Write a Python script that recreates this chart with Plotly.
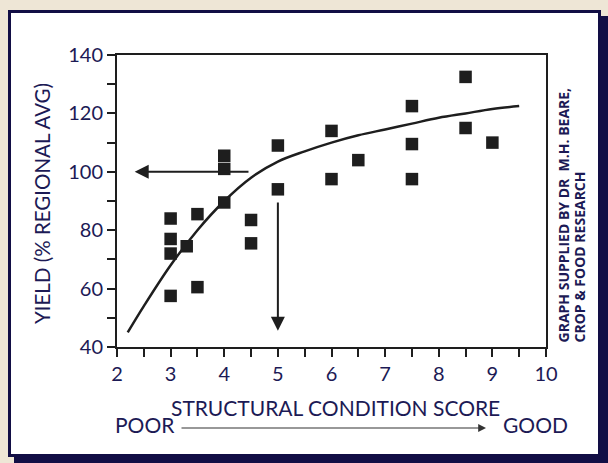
import plotly.graph_objects as go

# ---- data ----
score = [3, 3, 3, 3, 3.3, 3.5, 3.5, 4, 4, 4, 4.5, 4.5, 5, 5, 6, 6, 6.5, 7.5, 7.5, 7.5, 8.5, 8.5, 9]
yield_pct = [84, 77, 72, 57.5, 74.5, 85.5, 60.5, 105.5, 101, 89.5, 83.5, 75.5, 109, 94, 114, 97.5, 104, 122.5, 109.5, 97.5, 132.5, 115, 110]

curve_x = [2.2, 2.5, 3, 3.5, 4, 4.5, 5, 5.5, 6, 6.5, 7, 7.5, 8, 8.5, 9, 9.5]
curve_y = [45, 54, 68, 80, 90, 98, 103.5, 107, 110, 112.5, 114.5, 116.5, 118.5, 120, 121.5, 122.5]

x_ticks = [2, 3, 4, 5, 6, 7, 8, 9, 10]
y_ticks = [40, 60, 80, 100, 120, 140]

NAVY = "#1c1a55"
INK = "#1e1e1e"
W, H = 608, 463
L, R, T, B = 117, 62, 55, 116
PW, PH = W - L - R, H - T - B

def px(xp):
    return (xp - L) / PW

def py(yp):
    return (H - B - yp) / PH

fig = go.Figure()
fig.add_trace(go.Scatter(x=curve_x, y=curve_y, mode="lines", line=dict(color=INK, width=2.5, shape="spline"),
                         hoverinfo="skip", showlegend=False))
fig.add_trace(go.Scatter(x=score, y=yield_pct, mode="markers",
                         marker=dict(symbol="square", size=12.5, color=INK), showlegend=False))

font_main = "Lato, 'Open Sans', sans-serif"

fig.update_layout(
    width=W, height=H,
    margin=dict(l=L, r=R, t=T, b=B),
    paper_bgcolor="#eee6d6",
    plot_bgcolor="rgba(0,0,0,0)",
    font=dict(family=font_main, color=NAVY, size=20),
    showlegend=False,
    xaxis=dict(range=[2, 10], tickvals=x_ticks, showgrid=False, zeroline=False,
               showline=True, mirror=True, linecolor=INK, linewidth=2,
               ticks="outside", ticklen=8, tickwidth=2, tickcolor=INK,
               minor=dict(dtick=0.5, ticks="outside", ticklen=8, tickwidth=2, tickcolor=INK),
               tickfont=dict(size=20, color=NAVY, family=font_main)),
    yaxis=dict(range=[40, 140], tickvals=y_ticks, showgrid=False, zeroline=False,
               showline=True, mirror=True, linecolor=INK, linewidth=2,
               ticks="outside", ticklen=8, tickwidth=2, tickcolor=INK,
               minor=dict(dtick=10, ticks="outside", ticklen=8, tickwidth=2, tickcolor=INK),
               tickfont=dict(size=20, color=NAVY, family=font_main)),
    shapes=[
        dict(type="rect", xref="paper", yref="paper", layer="below",
             x0=px(14), x1=px(608), y0=py(463), y1=py(16), fillcolor="#120e45", line=dict(width=0)),
        dict(type="rect", xref="paper", yref="paper", layer="below",
             x0=px(9.5), x1=px(599.5), y0=py(455.5), y1=py(11.5), fillcolor="white",
             line=dict(color="#120e45", width=3)),
    ],
)

ann = [
    dict(text="YIELD (% REGIONAL AVG)", x=px(42), y=py(204), xref="paper", yref="paper",
         textangle=-90, showarrow=False, font=dict(size=20.5, color=NAVY), xanchor="center", yanchor="middle"),
    dict(text="STRUCTURAL CONDITION SCORE", x=px(335), y=py(407), xref="paper", yref="paper",
         showarrow=False, font=dict(size=21, color=NAVY), xanchor="center", yanchor="middle"),
    dict(text="POOR", x=px(145), y=py(424), xref="paper", yref="paper",
         showarrow=False, font=dict(size=21, color=NAVY), xanchor="center", yanchor="middle"),
    dict(text="GOOD", x=px(535), y=py(424), xref="paper", yref="paper",
         showarrow=False, font=dict(size=21, color=NAVY), xanchor="center", yanchor="middle"),
    dict(text="", x=px(486), y=py(428), xref="paper", yref="paper", ax=-306, ay=0,
         showarrow=True, arrowhead=2, arrowsize=1.3, arrowwidth=1.2, arrowcolor="#333333"),
    dict(text="GRAPH SUPPLIED BY DR  M.H. BEARE,", x=px(563), y=py(345), xref="paper", yref="paper",
         textangle=-90, showarrow=False, xanchor="center", yanchor="bottom",
         font=dict(size=14, color=NAVY, family="'Open Sans', sans-serif", weight="bold")),
    dict(text="CROP &amp; FOOD RESEARCH", x=px(579), y=py(345), xref="paper", yref="paper",
         textangle=-90, showarrow=False, xanchor="center", yanchor="bottom",
         font=dict(size=14, color=NAVY, family="'Open Sans', sans-serif", weight="bold")),
    # data-coordinate arrows
    dict(text="", x=2.33, y=100, ax=4.48, ay=100, xref="x", yref="y", axref="x", ayref="y",
         showarrow=True, arrowhead=2, arrowsize=1.4, arrowwidth=2, arrowcolor=INK),
    dict(text="", x=5, y=45.6, ax=5, ay=90, xref="x", yref="y", axref="x", ayref="y",
         showarrow=True, arrowhead=2, arrowsize=1.4, arrowwidth=2, arrowcolor=INK),
]
fig.update_layout(annotations=ann)

fig.write_html("out.html", config={"displayModeBar": False},
               post_script="document.body.style.margin='0';document.body.style.overflow='hidden';")
